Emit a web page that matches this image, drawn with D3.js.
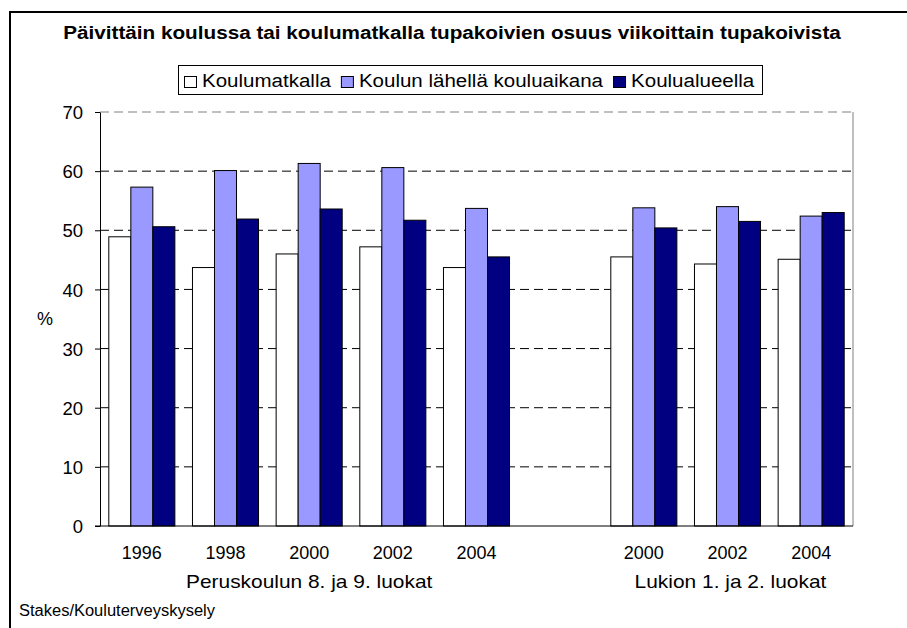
<!DOCTYPE html>
<html>
<head>
<meta charset="utf-8">
<script src="https://cdn.jsdelivr.net/npm/d3@7"></script>
<style>
  body { margin: 0; background: #fff; }
  text { font-family: "Liberation Sans", Arial, sans-serif; fill: #000; }
</style>
</head>
<body>
<script>
// Chart data
const years = ["1996", "1998", "2000", "2002", "2004", "", "2000", "2002", "2004"];
const series = ["Koulumatkalla", "Koulun lähellä kouluaikana", "Koulualueella"];
const koulumatkalla = [48.9, 43.7, 46.0, 47.2, 43.7, null, 45.5, 44.3, 45.1];
const lahella = [57.3, 60.1, 61.3, 60.6, 53.7, null, 53.8, 54.0, 52.4];
const alueella = [50.6, 51.9, 53.6, 51.7, 45.5, null, 50.4, 51.5, 53.0];
const groups = [
  {label: "Peruskoulun 8. ja 9. luokat", first: 0, last: 4},
  {label: "Lukion 1. ja 2. luokat", first: 6, last: 8}
];
const yTicks = [0, 10, 20, 30, 40, 50, 60, 70];
const colors = ["#ffffff", "#9999ff", "#000080"];

const width = 907, height = 628;
const marginTop = 112, marginRight = 54, marginBottom = 102, marginLeft = 100;

const values = [koulumatkalla, lahella, alueella];
const data = years.map((y, i) => ({i, year: y, vals: values.map(v => v[i])}));

// the source renders its text a bit wider than Arial, so stretch it
function stretch(sel, sx) {
  sel.each(function() {
    const w = this.getComputedTextLength();
    d3.select(this).attr("textLength", w * sx).attr("lengthAdjust", "spacingAndGlyphs");
  });
}

const svg = d3.select("body").append("svg")
    .attr("width", width)
    .attr("height", height)
    .attr("viewBox", [0, 0, width, height]);

// outer frame (runs off the right and bottom edge)
svg.append("rect")
    .attr("x", 10).attr("y", 12)
    .attr("width", 910).attr("height", 630)
    .attr("fill", "#fff")
    .attr("stroke", "#000")
    .attr("stroke-width", 2);

const x0 = d3.scaleBand(d3.range(years.length), [marginLeft, width - marginRight]);
const x1 = d3.scaleBand(d3.range(series.length), [0, x0.bandwidth()]).paddingOuter(0.4);
const y = d3.scaleLinear([0, 70], [height - marginBottom, marginTop]);

// title
svg.append("text")
    .attr("x", 452).attr("y", 39)
    .attr("text-anchor", "middle")
    .attr("font-weight", "bold")
    .attr("font-size", 18)
    .text("Päivittäin koulussa tai koulumatkalla tupakoivien osuus viikoittain tupakoivista")
    .call(stretch, 1.15);

// gridlines
svg.append("g")
  .selectAll("line")
  .data(yTicks.filter(t => t > 0 && t < 70))
  .join("line")
    .attr("x1", marginLeft).attr("x2", width - marginRight)
    .attr("y1", d => y(d)).attr("y2", d => y(d))
    .attr("stroke", "#000")
    .attr("stroke-dasharray", "9,5");

// plot frame top (dashed grey) and right (solid grey)
svg.append("line")
    .attr("x1", marginLeft).attr("x2", width - marginRight)
    .attr("y1", y(70)).attr("y2", y(70))
    .attr("stroke", "#808080").attr("stroke-dasharray", "9,5");
svg.append("line")
    .attr("x1", width - marginRight).attr("x2", width - marginRight)
    .attr("y1", y(70)).attr("y2", y(0))
    .attr("stroke", "#808080");

// bars
svg.append("g")
  .selectAll("g")
  .data(data.filter(d => d.year !== ""))
  .join("g")
    .attr("transform", d => `translate(${x0(d.i)},0)`)
  .selectAll("rect")
  .data(d => d.vals.map((v, k) => ({k, v})))
  .join("rect")
    .attr("x", d => x1(d.k))
    .attr("y", d => y(d.v))
    .attr("width", x1.bandwidth())
    .attr("height", d => y(0) - y(d.v))
    .attr("fill", d => colors[d.k])
    .attr("stroke", "#000")
    .attr("stroke-width", 1);

// y axis
svg.append("g")
    .attr("transform", `translate(${marginLeft},0)`)
    .call(d3.axisLeft(y).tickValues(yTicks).tickSize(5).tickPadding(12).tickSizeOuter(0))
    .call(g => g.selectAll(".tick text").attr("font-size", 18.5).attr("font-family", null).attr("dy", "0.36em"))
    .call(g => g.select(".domain").attr("stroke", "#000"));

// x axis line
svg.append("line")
    .attr("x1", marginLeft - 5).attr("x2", width - marginRight)
    .attr("y1", y(0)).attr("y2", y(0))
    .attr("stroke", "#000");

svg.append("text")
    .attr("x", 45).attr("y", 325)
    .attr("text-anchor", "middle")
    .attr("font-size", 18)
    .text("%");

// category labels
svg.append("g")
  .selectAll("text")
  .data(data.filter(d => d.year !== ""))
  .join("text")
    .attr("x", d => x0(d.i) + x0.bandwidth() / 2)
    .attr("y", 559)
    .attr("text-anchor", "middle")
    .attr("font-size", 18)
    .text(d => d.year);

svg.append("g")
  .selectAll("text")
  .data(groups)
  .join("text")
    .attr("x", d => (x0(d.first) + x0(d.last) + x0.bandwidth()) / 2 + (d.first > 0 ? 3 : 0))
    .attr("y", 588)
    .attr("text-anchor", "middle")
    .attr("font-size", 19)
    .text(d => d.label)
    .call(stretch, 1.1);

svg.append("text")
    .attr("x", 19).attr("y", 616)
    .attr("font-size", 16)
    .text("Stakes/Kouluterveyskysely")
    .call(stretch, 1.03);

// legend
const legend = svg.append("g");
legend.append("rect")
    .attr("x", 178.5).attr("y", 65.5)
    .attr("width", 584).attr("height", 29)
    .attr("fill", "#fff")
    .attr("stroke", "#000");
let lx = 184;
series.forEach((s, k) => {
  legend.append("rect")
      .attr("x", lx + 0.5).attr("y", 76.5)
      .attr("width", 12).attr("height", 11)
      .attr("fill", colors[k])
      .attr("stroke", "#000");
  const t = legend.append("text")
      .attr("x", lx + 18).attr("y", 87)
      .attr("font-size", 18)
      .text(s)
      .call(stretch, 1.14);
  lx += 18 + +t.attr("textLength") + 10;
});
</script>
</body>
</html>
